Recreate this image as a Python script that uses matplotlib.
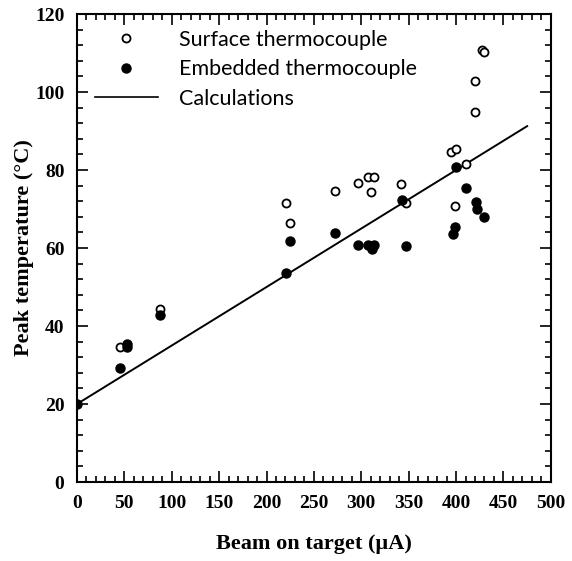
import matplotlib
matplotlib.use('Agg')
import matplotlib.pyplot as plt
from matplotlib.ticker import MultipleLocator
from matplotlib.lines import Line2D

plt.rcParams['font.family'] = ['Liberation Serif', 'DejaVu Serif']

# surface thermocouple (open circles)
surf_x = [45, 88, 221, 225, 272, 296, 307, 313, 310, 342, 347, 395, 400, 411, 399, 420, 420, 427, 429]
surf_y = [34.7, 44.3, 71.5, 66.5, 74.6, 76.6, 78.3, 78.3, 74.3, 76.4, 71.5, 84.7, 85.3, 81.5, 70.9, 95.0, 102.9, 110.8, 110.3]

# embedded thermocouple (filled circles)
emb_x = [0, 45, 53, 53, 88, 221, 225, 272, 297, 307, 311, 313, 343, 347, 400, 399, 397, 411, 421, 422, 429]
emb_y = [20.0, 29.3, 35.3, 34.5, 42.8, 53.7, 61.8, 63.8, 60.8, 60.8, 59.8, 60.8, 72.3, 60.5, 80.8, 65.5, 63.6, 75.3, 71.9, 69.9, 68.0]

# calculation line
calc_x = [0, 475]
calc_y = [20, 91.25]

fig = plt.figure(figsize=(5.72, 5.61), dpi=100)
ax = fig.add_axes([0.1346, 0.1408, 0.8284, 0.8342])

ax.plot(calc_x, calc_y, color='black', lw=1.4)
ax.plot(surf_x, surf_y, 'o', mfc='white', mec='black', mew=1.3, ms=5.8, ls='none', zorder=3)
ax.plot(emb_x, emb_y, 'o', mfc='black', mec='black', ms=6.5, ls='none', zorder=3)

ax.set_xlim(0, 500)
ax.set_ylim(0, 120)
ax.xaxis.set_major_locator(MultipleLocator(50))
ax.xaxis.set_minor_locator(MultipleLocator(10))
ax.yaxis.set_major_locator(MultipleLocator(20))
ax.yaxis.set_minor_locator(MultipleLocator(4))
ax.tick_params(which='both', direction='in', top=True, right=True, width=1.2)
ax.tick_params(which='major', length=8, labelsize=14, pad=9)
ax.tick_params(which='minor', length=4)
for lab in ax.get_xticklabels() + ax.get_yticklabels():
    lab.set_fontweight('bold')
for s in ax.spines.values():
    s.set_linewidth(1.5)

ax.set_xlabel('Beam on target (\u00b5A)', fontsize=16, fontweight='bold', labelpad=16)
ax.set_ylabel('Peak temperature (\u00b0C)', fontsize=16, fontweight='bold', labelpad=1)

handles = [
    Line2D([], [], marker='o', mfc='white', mec='black', mew=1.3, ms=5.8, ls='none'),
    Line2D([], [], marker='o', mfc='black', mec='black', ms=6.5, ls='none'),
    Line2D([], [], color='black', lw=1.2),
]
labels = ['Surface thermocouple', 'Embedded thermocouple', 'Calculations']
ax.legend(handles, labels, loc='upper left', bbox_to_anchor=(0.02, 0.985), frameon=False,
          prop={'family': 'Lato', 'size': 15.5}, handlelength=2.9, handletextpad=1.0,
          labelspacing=0.45, borderaxespad=0)

fig.savefig('out.png', dpi=100)
